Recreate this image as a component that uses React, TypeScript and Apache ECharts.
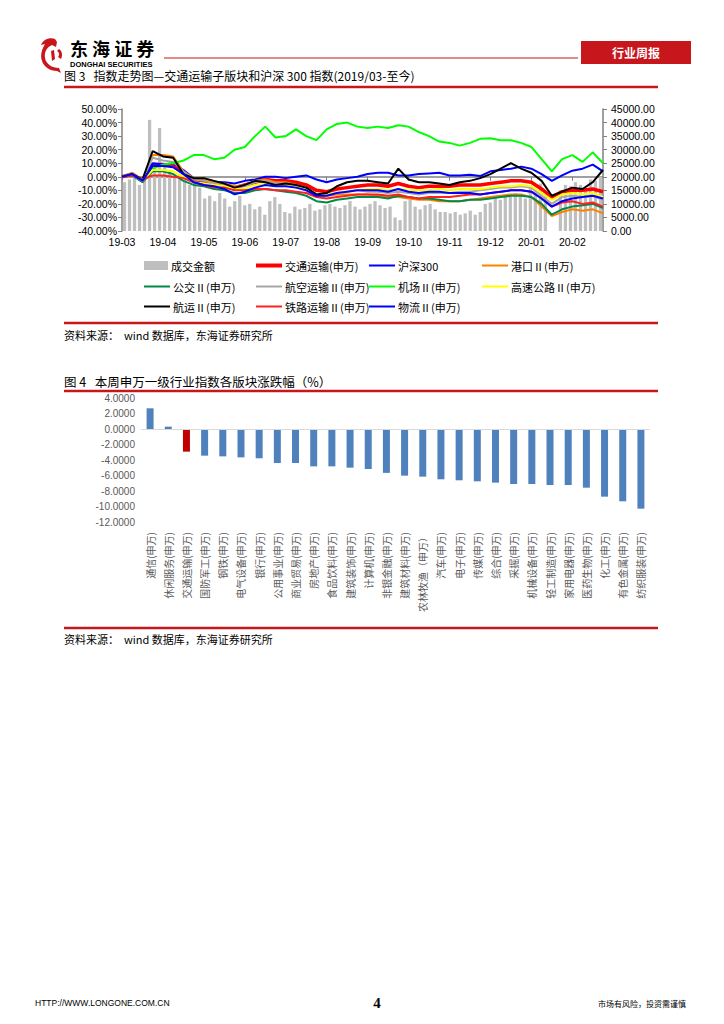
import React, { useEffect, useRef } from 'react';
import * as echarts from 'echarts';

// ---------- Figure 3 data ----------
const MONTHS = ['2019-03', '2019-04', '2019-05', '2019-06', '2019-07', '2019-08', '2019-09', '2019-10', '2019-11', '2019-12', '2020-01', '2020-02'];
const LINE_DAYS = ['01', '08', '16', '23'];
const BAR_DAYS = ['01', '04', '08', '12', '16', '19', '23', '27'];
const lineDates = MONTHS.flatMap((m) => LINE_DAYS.map((d) => `${m}-${d}`));
const barDates = MONTHS.flatMap((m) => BAR_DAYS.map((d) => `${m}-${d}`));

const turnover = [
  18000, 19000, 20000, 17000, 19000, 41000, 25000, 38000,
  24000, 22000, 20000, 21000, 19000, 17000, 20000, 16000,
  12000, 13000, 11000, 14000, 12000, 9000, 11000, 13000,
  9500, 10000, 8000, 9000, 6000, 11000, 12500, 10000,
  7000, 6500, 9000, 8000, 8500, 10000, 7500, 8000,
  9500, 10000, 9000, 8500, 9500, 11000, 9000, 8000,
  9000, 10000, 11000, 9500, 8500, 9000, 5000, 4000,
  11000, 11500, 9000, 8000, 9500, 10000, 8000, 7000,
  7000, 6500, 7000, 6000, 6500, 7500, 6000, 7000,
  10000, 10500, 12000, 11500, 13000, 13500, 14000, 13000,
  12000, 17000, 15000, 17500, 13000, 0, 0, 15000,
  17000, 16500, 18000, 17000, 16000, 19000, 18500, 20000,
];

const jiaotong = [
  0, 2, -3, 9, 9, 8, 3, -3,
  -3, -5, -6, -8, -6, -4, -2, -3,
  -3, -4, -6, -10, -11, -9, -8, -7,
  -6, -6, -7, -5, -7, -8, -7, -7,
  -7, -6, -6, -6, -5, -4, -3, -3,
  -4, -9, -15, -11, -10, -10, -9, -11,
];
const hs300 = [
  0, 2, -2, 10, 9, 10, 5, -1,
  -3, -4, -4, -5, -3, -2, 0, 0,
  -1, 0, 1, -2, -4, -2, -1, 0,
  2, 3, 3, 1, 1, 2, 2.5, 3,
  1, 1, 1.5, 0.5, 4, 5, 6, 7.5,
  6, 2, -3, 1, 4.5, 6, 9, 4,
];
const gangkou = [
  0, 3, -2, 16, 16, 15, 4, -1,
  -2, -4, -5, -7, -6, -3, -2, -4,
  -4, -6, -9, -13, -14, -13, -13, -13,
  -13, -14, -15, -15, -16, -17, -17, -18,
  -18, -18, -17, -16, -15, -14, -13, -13,
  -15, -22, -29, -26, -24, -25, -24, -27,
];
const gongjiao = [
  0, 1, -4, 4, 4, 2, -3, -6,
  -7, -9, -10, -12, -12, -10, -9, -10,
  -11, -12, -14, -18, -19, -17, -16, -15,
  -15, -15, -16, -14, -15, -16, -16, -17,
  -18, -18, -17, -17, -16, -15, -14, -14,
  -15, -20, -28, -24, -22, -21, -20, -23,
];
const hangkong = [
  0, 2, -2, 14, 12, 11, 4, -2,
  -3, -5, -6, -8, -7, -4, -3, -5,
  -5, -6, -9, -13, -14, -12, -11, -10,
  -11, -11, -12, -11, -12, -13, -12, -12,
  -12, -11, -11, -10, -9, -8, -8, -7,
  -8, -14, -20, -15, -14, -15, -14, -17,
];
const jichang = [
  0, 2, -3, 6, 9, 10, 12, 16,
  16, 13, 14, 20, 22, 30, 37, 29,
  30, 35, 30, 27, 35, 39, 40, 37,
  36, 37, 36, 38, 37, 33, 30, 26,
  25, 23, 25, 28, 28.5, 27, 27, 25,
  22, 13, 4, 13, 16, 11, 18, 10,
];
const gaosu = [
  0, 2, -3, 5, 5, 4, 0, -4,
  -5, -6, -7, -9, -9, -6, -5, -6,
  -6, -7, -9, -13, -13, -12, -11, -10,
  -9, -9, -10, -9, -10, -10, -10, -9,
  -10, -9, -9, -9, -8, -7, -7, -6,
  -7, -12, -17, -13, -12, -13, -12, -15,
];
const hangyun = [
  0, 2, -2, 19, 15, 14, 2, -1,
  -1, -3, -5, -8, -6, -3, -4, -6,
  -5, -6, -8, -13, -12, -7, -4, -3,
  -3, -4, -5, 6, -2, -4, -4, -5,
  -6, -4, -3, -1, 2, 6, 10, 6,
  3, -3, -14, -11, -8, -9, -4, 5,
];
const tielu = [
  0, 1, -2, 1, 1, 0, -1, -4,
  -6, -8, -8, -10, -10, -9, -9, -10,
  -10, -11, -12, -15, -16, -15, -14, -13,
  -13, -13, -14, -13, -15, -16, -15, -15,
  -15, -14, -13, -13, -12, -11, -10, -10,
  -11, -16, -22, -19, -18, -20, -19, -22,
];
const wuliu = [
  0, 2, -3, 8, 8, 7, 2, -4,
  -6, -7, -9, -13, -11, -8, -6, -7,
  -7, -8, -10, -14, -14, -12, -11, -10,
  -10, -10, -11, -9, -11, -12, -11, -11,
  -12, -12, -12, -13, -12, -11, -10, -10,
  -11, -16, -22, -18, -16, -15, -14, -16,
];

// ---------- Figure 4 data ----------
const industries = [
  '通信(申万)', '休闲服务(申万)', '交通运输(申万)', '国防军工(申万)', '钢铁(申万)', '电气设备(申万)', '银行(申万)',
  '公用事业(申万)', '商业贸易(申万)', '房地产(申万)', '食品饮料(申万)', '建筑装饰(申万)', '计算机(申万)', '非银金融(申万)',
  '建筑材料(申万)', '农林牧渔（申万）', '汽车(申万)', '电子(申万)', '传媒(申万)', '综合(申万)', '采掘(申万)',
  '机械设备(申万)', '轻工制造(申万)', '家用电器(申万)', '医药生物(申万)', '化工(申万)', '有色金属(申万)', '纺织服装(申万)',
];
const weeklyChange = [
  2.67, 0.3, -2.92, -3.44, -3.53, -3.66, -3.78,
  -4.39, -4.39, -4.82, -4.82, -4.99, -5.16, -5.66,
  -6.02, -6.15, -6.49, -6.62, -6.75, -6.92, -7.10,
  -7.10, -7.23, -7.23, -7.57, -8.73, -9.33, -10.28,
];
const HIGHLIGHT = '交通运输(申万)';

const CJK = '"Noto Sans CJK SC", "Noto Sans", sans-serif';
const LATIN = '"Liberation Sans", Arial, sans-serif';

echarts.graphic.registerShape(
  'logo',
  echarts.graphic.extendPath(
    'M18 2 C12 0 6 3 4 8 L8 7 C5 12 3 18 5 24 C7 30 13 34 20 34 L24 36 L22 31 C15 31 9 27 8 21 C7 15 10 10 15 8 L19 10 L20 5 Z M22 12 C25 14 26 18 24 22 L21 20 C23 18 22 15 20 14 Z M14 14 L17 13 L18 22 L15 24 Z',
    {}
  )
);

const lineDefs = [
  { name: '交通运输(申万)', data: jiaotong, color: '#ff0000', width: 3.5 },
  { name: '沪深300', data: hs300, color: '#0000ff', width: 2 },
  { name: '港口Ⅱ(申万)', data: gangkou, color: '#ff8000', width: 2 },
  { name: '公交Ⅱ(申万)', data: gongjiao, color: '#008a45', width: 2 },
  { name: '航空运输Ⅱ(申万)', data: hangkong, color: '#a6a6a6', width: 2 },
  { name: '机场Ⅱ(申万)', data: jichang, color: '#00ff00', width: 2 },
  { name: '高速公路Ⅱ(申万)', data: gaosu, color: '#ffff00', width: 2 },
  { name: '航运Ⅱ(申万)', data: hangyun, color: '#000000', width: 2 },
  { name: '铁路运输Ⅱ(申万)', data: tielu, color: '#ff2020', width: 2 },
  { name: '物流Ⅱ(申万)', data: wuliu, color: '#0000ff', width: 2 },
];

const legendPos: [string, number, number, number][] = [
  ['成交金额', 144, 267, 9],
  ['交通运输(申万)', 256, 267, 4],
  ['沪深300', 369, 267, 2],
  ['港口Ⅱ(申万)', 482, 267, 2],
  ['公交Ⅱ(申万)', 144, 288, 2],
  ['航空运输Ⅱ(申万)', 256, 288, 2],
  ['机场Ⅱ(申万)', 369, 288, 2],
  ['高速公路Ⅱ(申万)', 482, 288, 2],
  ['航运Ⅱ(申万)', 144, 308, 2],
  ['铁路运输Ⅱ(申万)', 256, 308, 2],
  ['物流Ⅱ(申万)', 369, 308, 2],
];

const monthTick = (i: number) => i % 4 === 0;

export default function App() {
  const ref = useRef<HTMLDivElement>(null);
  useEffect(() => {
    if (!ref.current) return;
    const chart = echarts.init(ref.current, null, { renderer: 'svg' });

    const text = (x: number, y: number, t: string, o: any = {}) => ({
      type: 'text',
      x,
      y,
      silent: true,
      style: {
        text: t,
        fontSize: o.size || 11,
        fontFamily: o.family || CJK,
        fontWeight: o.weight || 'normal',
        fill: o.color || '#000',
        textAlign: o.align || 'left',
        textVerticalAlign: 'middle',
      },
    });
    const rule = (y: number, x1: number, x2: number, w = 2, c = '#c8161d') => ({
      type: 'line',
      silent: true,
      shape: { x1, y1: y, x2, y2: y },
      style: { stroke: c, lineWidth: w },
    });

    const option: any = {
      animation: false,
      backgroundColor: '#fff',
      graphic: [
        { type: 'logo', x: 37, y: 37, scaleX: 1.0, scaleY: 1.0, style: { fill: '#c8161d' } },
        text(70, 47.5, '东 海 证 券', { size: 18, weight: 'bold' }),
        text(70, 64, 'DONGHAI SECURITIES', { size: 7.5, weight: 'bold', family: LATIN }),
        rule(58, 164, 578, 1.2),
        { type: 'rect', silent: true, shape: { x: 581, y: 41, width: 110, height: 23 }, style: { fill: '#c8161d' } },
        text(636, 52.5, '行业周报', { size: 12, weight: 'bold', color: '#fff', align: 'center' }),
        text(64, 75, '图 3   指数走势图—交通运输子版块和沪深 300 指数(2019/03-至今)', { size: 12 }),
        rule(87, 64, 658, 2.5),
        rule(323, 64, 658, 2.5),
        text(64, 335, '资料来源：  wind 数据库，东海证券研究所', { size: 11 }),
        text(64, 381, '图 4   本周申万一级行业指数各版块涨跌幅（%）', { size: 12.5 }),
        rule(391, 64, 658, 2.5),
        rule(628, 64, 658, 2.5),
        text(64, 639, '资料来源：  wind 数据库，东海证券研究所', { size: 11 }),
        text(35, 1003, 'HTTP://WWW.LONGONE.COM.CN', { size: 8.5, family: LATIN }),
        text(377, 1003, '4', { size: 15, weight: 'bold', family: '"Liberation Serif", serif', align: 'center' }),
        text(598, 1003, '市场有风险，投资需谨慎', { size: 8 }),
      ],
      legend: legendPos.map(([name, left, y, h]) => ({
        data: [name],
        left,
        top: y - 7,
        padding: 0,
        itemGap: 0,
        icon: 'rect',
        itemWidth: name === '成交金额' ? 24 : 26,
        itemHeight: h,
        selectedMode: false,
        textStyle: { fontSize: 11, fontFamily: CJK, color: '#000', padding: [0, 0, 0, -2] },
      })),
      grid: [
        { left: 122, right: 121, top: 109, bottom: 793 },
        { left: 141, right: 74, top: 398, bottom: 502 },
      ],
      xAxis: [
        {
          type: 'category',
          gridIndex: 0,
          data: lineDates,
          boundaryGap: false,
          axisLine: { lineStyle: { color: '#808080', width: 1.5 } },
          axisTick: { interval: monthTick, length: 4, lineStyle: { color: '#808080' } },
          axisLabel: {
            interval: monthTick,
            formatter: (v: string) => v.slice(2, 7),
            fontSize: 10.5,
            fontFamily: LATIN,
            color: '#000',
            margin: 5,
          },
        },
        { type: 'category', gridIndex: 0, data: barDates, show: false, boundaryGap: true },
        {
          type: 'category',
          gridIndex: 1,
          data: industries,
          position: 'bottom',
          axisLine: { show: false, onZero: false },
          axisTick: { show: false },
          axisLabel: {
            interval: 0,
            rotate: 90,
            fontSize: 10,
            fontFamily: CJK,
            color: '#595959',
            margin: 10,
          },
        },
      ],
      yAxis: [
        {
          type: 'value',
          gridIndex: 0,
          min: -40,
          max: 50,
          interval: 10,
          splitLine: { show: false },
          axisLine: { show: true, lineStyle: { color: '#808080', width: 1.5 } },
          axisTick: { show: true, length: 4, lineStyle: { color: '#808080' } },
          axisLabel: {
            formatter: (v: number) => v.toFixed(2) + '%',
            fontSize: 10.5,
            fontFamily: LATIN,
            color: '#000',
            margin: 5,
          },
        },
        {
          type: 'value',
          gridIndex: 0,
          position: 'right',
          min: 0,
          max: 45000,
          interval: 5000,
          splitLine: { show: false },
          axisLine: { show: true, lineStyle: { color: '#808080', width: 1.5 } },
          axisTick: { show: true, length: 4, lineStyle: { color: '#808080' } },
          axisLabel: {
            formatter: (v: number) => v.toFixed(2),
            fontSize: 10.5,
            fontFamily: LATIN,
            color: '#000',
            margin: 8,
          },
        },
        {
          type: 'value',
          gridIndex: 1,
          min: -12,
          max: 4,
          interval: 2,
          splitLine: { show: false },
          axisLine: { show: false },
          axisTick: { show: false },
          axisLabel: {
            formatter: (v: number) => v.toFixed(4),
            fontSize: 10,
            fontFamily: LATIN,
            color: '#595959',
            margin: 6,
          },
        },
      ],
      series: [
        {
          type: 'bar',
          name: '成交金额',
          xAxisIndex: 1,
          yAxisIndex: 1,
          data: turnover,
          barCategoryGap: '35%',
          itemStyle: { color: '#bfbfbf' },
        },
        ...lineDefs.map((d) => ({
          type: 'line',
          name: d.name,
          xAxisIndex: 0,
          yAxisIndex: 0,
          data: d.data,
          showSymbol: false,
          symbol: 'none',
          lineStyle: { color: d.color, width: d.width },
          itemStyle: { color: d.color },
        })),
        {
          type: 'bar',
          name: '涨跌幅',
          xAxisIndex: 2,
          yAxisIndex: 2,
          data: weeklyChange,
          barWidth: 7,
          itemStyle: {
            color: (p: any) => (p.name === HIGHLIGHT ? '#c00000' : '#4f81bd'),
          },
          markLine: {
            silent: true,
            symbol: ['none', 'none'],
            label: { show: false },
            lineStyle: { color: '#d9d9d9', type: 'solid', width: 1 },
            data: [{ yAxis: 0 }],
          },
        },
      ],
    };
    chart.setOption(option);
    return () => chart.dispose();
  }, []);
  return (
    <div
      ref={ref}
      style={{ position: 'absolute', left: 0, top: 0, width: 724, height: 1024, background: '#fff' }}
    />
  );
}
